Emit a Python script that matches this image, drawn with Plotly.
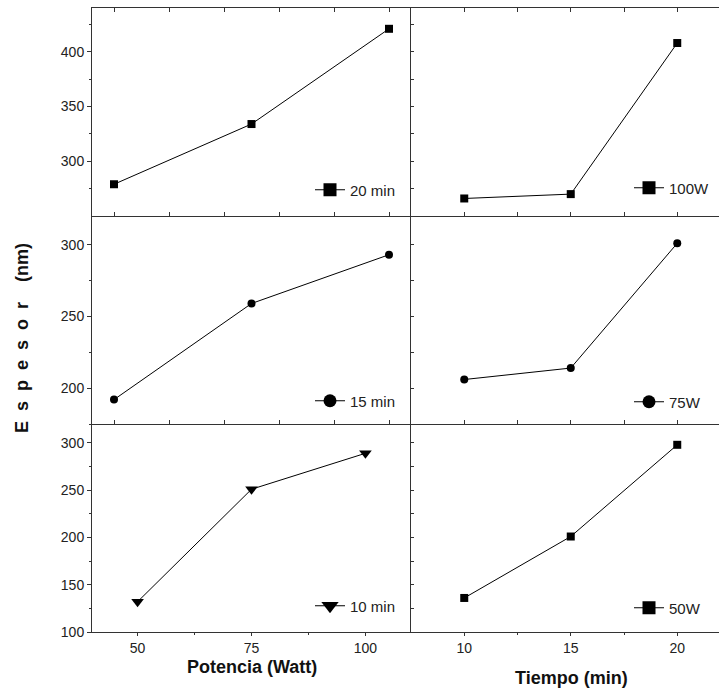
import plotly.graph_objects as go

# ---------------- data ----------------
potencia = [50, 75, 100]
tiempo = [10, 15, 20]

esp_20min = [279, 334, 421]
esp_15min = [192, 259, 293]
esp_10min = [132, 251, 289]

esp_100W = [266, 270, 408]
esp_75W = [206, 214, 301]
esp_50W = [136, 201, 298]

labels_left = ["20 min", "15 min", "10 min"]
labels_right = ["100W", "75W", "50W"]

FONT = "Arial, Liberation Sans, sans-serif"
W, H = 719, 689
L, R, T, B = 92, 0, 8, 57
PW, PH = W - L - R, H - T - B


def px_x(p):
    return (p - L) / PW


def px_y(p):
    return (H - B - p) / PH


fig = go.Figure()

specs = [
    # (x, y, name, symbol, size, legend-size, xaxis, yaxis, legend)
    (potencia, esp_20min, labels_left[0], "square", 8, 13, "x", "y", "legend"),
    (tiempo, esp_100W, labels_right[0], "square", 8, 13, "x2", "y2", "legend2"),
    (potencia, esp_15min, labels_left[1], "circle", 8, 13, "x3", "y3", "legend3"),
    (tiempo, esp_75W, labels_right[1], "circle", 8, 13, "x4", "y4", "legend4"),
    (potencia, esp_10min, labels_left[2], "triangle-down", 11, 15, "x5", "y5", "legend5"),
    (tiempo, esp_50W, labels_right[2], "square", 8, 13, "x6", "y6", "legend6"),
]

for xs, ys, name, sym, sz, lsz, xa, ya, lg in specs:
    fig.add_trace(go.Scatter(
        x=xs, y=ys, name=name, mode="lines+markers",
        line=dict(color="black", width=1),
        marker=dict(symbol=sym, size=sz, color="black", line=dict(width=0)),
        xaxis=xa, yaxis=ya, showlegend=False,
    ))
    # legend entry with the larger key symbol used in the original
    fig.add_trace(go.Scatter(
        x=[None], y=[None], name=name, mode="lines+markers",
        line=dict(color="black", width=1),
        marker=dict(symbol=sym, size=lsz, color="black", line=dict(width=0)),
        xaxis=xa, yaxis=ya, legend=lg, showlegend=True, hoverinfo="skip",
    ))

xl = [0, 319 / PW]
xr = [319 / PW, 1]
rows = [[2 / 3, 1], [1 / 3, 2 / 3], [0, 1 / 3]]

tickfont = dict(family=FONT, size=14, color="#222")
linecol = "#333"

common_x = dict(showgrid=False, zeroline=False, showline=True, linecolor=linecol,
                linewidth=1, tickcolor=linecol, tickfont=tickfont)
common_y = dict(showgrid=False, zeroline=False, showline=True, linecolor=linecol,
                linewidth=1, tickcolor=linecol, tickfont=tickfont)

# top & middle left x axes (no labels)
for i, key in [(0, "xaxis"), (1, "xaxis3")]:
    fig.layout[key] = dict(common_x, domain=xl, anchor="y" if i == 0 else "y3",
                           range=[46, 104], tickvals=[50, 60, 70, 80, 90, 100],
                           ticks="inside", ticklen=4, showticklabels=False,
                           mirror="ticks" if i == 0 else False)
# top & middle right x axes
for i, key in [(0, "xaxis2"), (1, "xaxis4")]:
    fig.layout[key] = dict(common_x, domain=xr, anchor="y2" if i == 0 else "y4",
                           range=[7.5, 21.96], tickvals=[10, 12.5, 15, 17.5, 20],
                           ticks="inside", ticklen=4, showticklabels=False,
                           mirror="ticks" if i == 0 else False)
# bottom left
fig.layout["xaxis5"] = dict(common_x, domain=xl, anchor="y5", range=[40, 110],
                            tickvals=[50, 75, 100], ticks="outside", ticklen=3,
                            minor=dict(tickvals=[62.5, 87.5], ticks="outside",
                                       ticklen=2, tickcolor=linecol))
# bottom right
fig.layout["xaxis6"] = dict(common_x, domain=xr, anchor="y6", range=[7.5, 21.96],
                            tickvals=[10, 15, 20], ticks="outside", ticklen=3,
                            minor=dict(tickvals=[12.5, 17.5], ticks="outside",
                                       ticklen=2, tickcolor=linecol))

yranges = [[250, 440], [175, 320], [100, 320]]
ymajor = [[300, 350, 400], [200, 250, 300], [100, 150, 200, 250, 300]]
yminor = [[275, 325, 375, 425], [175, 225, 275], [125, 175, 225, 275]]

for r in range(3):
    lk = "yaxis" if r == 0 else f"yaxis{2 * r + 1}"
    rk = f"yaxis{2 * r + 2}"
    lx = "x" if r == 0 else f"x{2 * r + 1}"
    rx = f"x{2 * r + 2}"
    fig.layout[lk] = dict(common_y, domain=rows[r], anchor=lx, range=yranges[r],
                          tickvals=ymajor[r], ticks="outside", ticklen=4,
                          minor=dict(tickvals=yminor[r], ticks="outside",
                                     ticklen=2, tickcolor=linecol))
    fig.layout[rk] = dict(common_y, domain=rows[r], anchor=rx, range=yranges[r],
                          tickvals=ymajor[r] + yminor[r], ticks="inside",
                          ticklen=3, showticklabels=False)

# legends
leg_pos = {
    "legend": (px_x(310), px_y(190)),
    "legend2": (px_x(629), px_y(188)),
    "legend3": (px_x(310), px_y(401)),
    "legend4": (px_x(629), px_y(402)),
    "legend5": (px_x(310), px_y(606)),
    "legend6": (px_x(629), px_y(608)),
}
for k, (lxp, lyp) in leg_pos.items():
    fig.layout[k] = dict(x=lxp, y=lyp, xanchor="left", yanchor="middle",
                         bgcolor="rgba(0,0,0,0)", borderwidth=0,
                         font=dict(family=FONT, size=15, color="#222"),
                         tracegroupgap=0)

# axis titles
nb = "\u00a0"
esp = (nb * 2).join("Espesor") + nb * 4 + "(nm)"
fig.add_annotation(text=f"<b>{esp}</b>", xref="paper", yref="paper",
                   x=px_x(22), y=px_y(338), textangle=-90, showarrow=False,
                   font=dict(family=FONT, size=18, color="#111"),
                   xanchor="center", yanchor="middle")
fig.add_annotation(text="<b>Potencia (Watt)</b>", xref="paper", yref="paper",
                   x=px_x(252), y=px_y(667), showarrow=False,
                   font=dict(family=FONT, size=18, color="#111"),
                   xanchor="center", yanchor="middle")
fig.add_annotation(text="<b>Tiempo (min)</b>", xref="paper", yref="paper",
                   x=px_x(571), y=px_y(678), showarrow=False,
                   font=dict(family=FONT, size=18, color="#111"),
                   xanchor="center", yanchor="middle")

fig.update_layout(width=W, height=H, margin=dict(l=L, r=R, t=T, b=B),
                  plot_bgcolor="white", paper_bgcolor="white",
                  font=dict(family=FONT))

fig.write_html("out.html")
